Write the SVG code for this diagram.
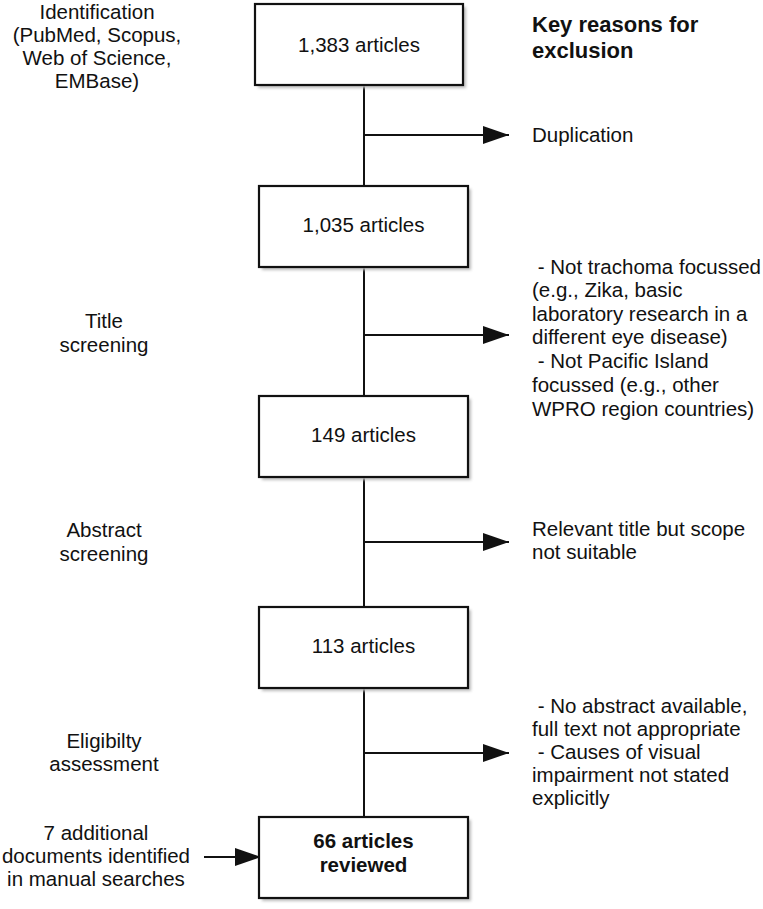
<svg xmlns="http://www.w3.org/2000/svg" width="763" height="909" viewBox="0 0 763 909">
<style>
text{font-family:"Liberation Sans",Arial,sans-serif;font-size:20.5px;fill:#111}
.c{text-anchor:middle}
.b{font-weight:bold}
.k{font-size:22px;font-weight:bold}
.box{fill:#fff;stroke:#111;stroke-width:2.2}
.sh{fill:#bbb;filter:url(#blur)}
.ln{stroke:#111;stroke-width:2;fill:none}
</style>
<defs>
<filter id="blur" x="-10%" y="-10%" width="120%" height="120%"><feGaussianBlur stdDeviation="1.5"/></filter>
<marker id="ah" markerWidth="26" markerHeight="18" refX="26" refY="9" orient="auto" markerUnits="userSpaceOnUse"><path d="M0,0 L26,9 L0,18 Z" fill="#111"/></marker>
</defs>
<g id="connectors">
<line class="ln" x1="364" y1="85" x2="364" y2="186"/>
<line class="ln" x1="364" y1="267" x2="364" y2="396"/>
<line class="ln" x1="364" y1="477" x2="364" y2="607"/>
<line class="ln" x1="364" y1="688" x2="364" y2="817"/>
<line class="ln" x1="364" y1="135" x2="509" y2="135" marker-end="url(#ah)"/>
<line class="ln" x1="364" y1="335" x2="509" y2="335" marker-end="url(#ah)"/>
<line class="ln" x1="364" y1="542" x2="509" y2="542" marker-end="url(#ah)"/>
<line class="ln" x1="364" y1="753" x2="509" y2="753" marker-end="url(#ah)"/>
<line class="ln" x1="204" y1="857" x2="261" y2="857" marker-end="url(#ah)"/>
</g>
<g id="n1">
<rect class="sh" x="258" y="7" width="208" height="81"/>
<rect class="box" x="255" y="4" width="208" height="81"/>
<text class="c" x="359" y="52">1,383 articles</text>
</g>
<g id="n2">
<rect class="sh" x="262" y="189" width="209" height="81"/>
<rect class="box" x="259" y="186" width="209" height="81"/>
<text class="c" x="363.5" y="232">1,035 articles</text>
</g>
<g id="n3">
<rect class="sh" x="262" y="399" width="209" height="81"/>
<rect class="box" x="259" y="396" width="209" height="81"/>
<text class="c" x="363.5" y="442">149 articles</text>
</g>
<g id="n4">
<rect class="sh" x="262" y="610" width="209" height="81"/>
<rect class="box" x="259" y="607" width="209" height="81"/>
<text class="c" x="363.5" y="653">113 articles</text>
</g>
<g id="n5">
<rect class="sh" x="262" y="820" width="209" height="81"/>
<rect class="box" x="259" y="817" width="209" height="81"/>
<text class="c b" x="363.5" y="848">66 articles</text>
<text class="c b" x="363.5" y="872">reviewed</text>
</g>
<g id="stage-labels">
<text class="c" x="97" y="19">Identification</text>
<text class="c" x="97" y="42">(PubMed, Scopus,</text>
<text class="c" x="97" y="65">Web of Science,</text>
<text class="c" x="97" y="88">EMBase)</text>
<text class="c" x="104" y="328">Title</text>
<text class="c" x="104" y="352">screening</text>
<text class="c" x="104" y="537">Abstract</text>
<text class="c" x="104" y="561">screening</text>
<text class="c" x="104" y="748">Eligibilty</text>
<text class="c" x="104" y="771">assessment</text>
<text class="c" x="96" y="840">7 additional</text>
<text class="c" x="96" y="863">documents identified</text>
<text class="c" x="96" y="886">in manual searches</text>
</g>
<g id="exclusion-reasons">
<text class="k" x="532" y="32">Key reasons for</text>
<text class="k" x="532" y="58">exclusion</text>
<text x="532" y="142">Duplication</text>
<text x="532" y="274" xml:space="preserve"> - Not trachoma focussed</text>
<text x="532" y="297">(e.g., Zika, basic</text>
<text x="532" y="321">laboratory research in a</text>
<text x="532" y="344">different eye disease)</text>
<text x="532" y="368" xml:space="preserve"> - Not Pacific Island</text>
<text x="532" y="392">focussed (e.g., other</text>
<text x="532" y="416">WPRO region countries)</text>
<text x="532" y="536">Relevant title but scope</text>
<text x="532" y="559">not suitable</text>
<text x="532" y="713" xml:space="preserve"> - No abstract available,</text>
<text x="532" y="736">full text not appropriate</text>
<text x="532" y="759" xml:space="preserve"> - Causes of visual</text>
<text x="532" y="782">impairment not stated</text>
<text x="532" y="805">explicitly</text>
</g>
</svg>
